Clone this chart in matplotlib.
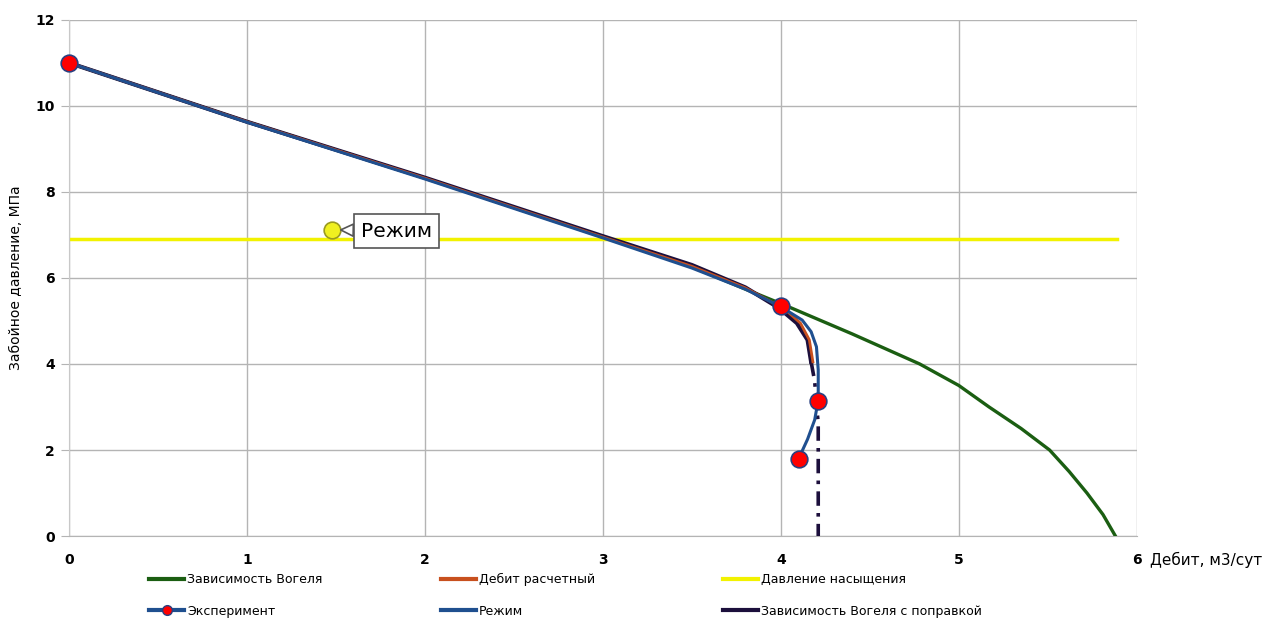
"""
Indicator curve: bottomhole pressure vs flow rate
"""
import matplotlib.pyplot as plt
from matplotlib.lines import Line2D

plt.rcParams['font.family'] = ['DejaVu Sans']
narrow = ['DejaVu Sans Condensed', 'Liberation Sans Narrow', 'DejaVu Sans']

# Зависимость Вогеля
vogel_q = [0, 1, 2, 3, 3.5, 3.8, 4.02, 4.40, 4.78, 5.0, 5.17, 5.35, 5.51, 5.62, 5.72, 5.81, 5.88]
vogel_p = [11, 9.63, 8.32, 6.95, 6.26, 5.74, 5.37, 4.70, 4.0, 3.5, 3.0, 2.5, 2.0, 1.5, 1.0, 0.5, 0.0]

# Зависимость Вогеля с поправкой
corr_q = [0, 1, 2, 3, 3.5, 3.8, 3.99, 4.09, 4.15, 4.17]
corr_p = [11, 9.63, 8.33, 6.97, 6.30, 5.78, 5.3, 4.95, 4.56, 4.05]
corr_tail_q = [4.17, 4.19, 4.21, 4.21]
corr_tail_p = [4.05, 3.6, 2.6, 0.0]

# Дебит расчетный
calc_q = [0, 1, 2, 3, 3.5, 3.8, 4.02, 4.11, 4.16, 4.18]
calc_p = [11, 9.63, 8.32, 6.95, 6.27, 5.77, 5.28, 4.95, 4.56, 4.05]

# Режим
mode_q = [0, 1, 2, 3, 3.5, 3.8, 4.0, 4.12, 4.17, 4.20, 4.21, 4.21, 4.19, 4.15, 4.10]
mode_p = [11, 9.62, 8.30, 6.93, 6.23, 5.74, 5.33, 5.02, 4.75, 4.40, 3.86, 3.16, 2.70, 2.25, 1.8]

# Эксперимент
exp_q = [0, 4.0, 4.21, 4.1]
exp_p = [11, 5.35, 3.15, 1.8]

# Давление насыщения
sat_q = [0, 5.89]
sat_p = [6.9, 6.9]

point_q, point_p = 1.48, 7.12

green = '#1b5e12'
orange = '#c8501e'
yellow = '#f2f200'
blue = '#1f4f8f'
dark = '#1c0f3c'

fig = plt.figure(figsize=(12.73, 6.19), dpi=100)
ax = fig.add_axes([0.0542, 0.134, 0.8388, 0.834])

ax.plot(sat_q, sat_p, color=yellow, lw=2.5, zorder=2)
ax.plot(vogel_q, vogel_p, color=green, lw=2.4, zorder=3)
ax.plot(corr_q, corr_p, color=dark, lw=3.0, zorder=4)
ax.plot(corr_tail_q, corr_tail_p, color=dark, lw=2.6, ls=(0, (4, 2, 1, 2)), zorder=4)
ax.plot(calc_q, calc_p, color=orange, lw=2.0, zorder=5)
ax.plot(mode_q, mode_p, color=blue, lw=2.2, zorder=6)
ax.plot(exp_q, exp_p, ls='none', marker='o', ms=12, mfc='#ff0000', mec='#2a3f80',
        mew=1.2, zorder=8, clip_on=False)

ax.plot([point_q], [point_p], marker='o', ms=12, mfc='#f0f020', mec='#9a9a20', mew=1.2,
        ls='none', zorder=7)
ax.annotate('Режим', xy=(point_q, point_p), xytext=(1.84, 7.09), fontsize=14.5,
            ha='center', va='center',
            bbox=dict(boxstyle='square,pad=0.35', fc='white', ec='#555555', lw=1.2),
            arrowprops=dict(arrowstyle='wedge,tail_width=0.6,shrink_factor=0.5',
                            fc='white', ec='#555555', lw=1.2, shrinkA=0, shrinkB=6),
            zorder=9)

ax.set_xlim(0, 6)
ax.set_ylim(0, 12)
ax.set_xticks(range(0, 7))
ax.set_yticks(range(0, 13, 2))
ax.grid(True, color='#b4b4b4', lw=1.0)
ax.set_axisbelow(True)
for s in ['top', 'right']:
    ax.spines[s].set_visible(False)
ax.spines['left'].set_color('#c8c8c8')
ax.spines['bottom'].set_color('#b4b4b4')
ax.tick_params(axis='x', length=0, pad=12, labelsize=10)
ax.tick_params(axis='y', length=6, color='#b4b4b4', pad=4, labelsize=10)
for lab in ax.get_xticklabels() + ax.get_yticklabels():
    lab.set_fontweight('bold')

ax.set_ylabel('Забойное давление, МПа', fontsize=10, labelpad=9)
fig.text(0.903, 1 - 560 / 619, 'Дебит, м3/сут', fontsize=11, va='center', ha='left',
         family=narrow)

# legend: three columns of two rows
cols = [
    (148, [Line2D([], [], color=green, lw=3),
           Line2D([], [], color=blue, lw=3, marker='o', ms=7, mfc='#ff0000', mec='#2a3f80')],
     ['Зависимость Вогеля', 'Эксперимент']),
    (440, [Line2D([], [], color=orange, lw=3), Line2D([], [], color=blue, lw=3)],
     ['Дебит расчетный', 'Режим']),
    (722, [Line2D([], [], color=yellow, lw=3), Line2D([], [], color=dark, lw=3)],
     ['Давление насыщения', 'Зависимость Вогеля с поправкой']),
]
for x0, hs, ls in cols:
    leg = fig.legend(hs, ls, loc='lower left', bbox_to_anchor=(x0 / 1273 - 0.008, -0.016),
                     frameon=False, handlelength=2.8, handletextpad=0.25,
                     labelspacing=1.5, prop={'family': narrow, 'size': 9})

fig.savefig('out.png', dpi=100)
